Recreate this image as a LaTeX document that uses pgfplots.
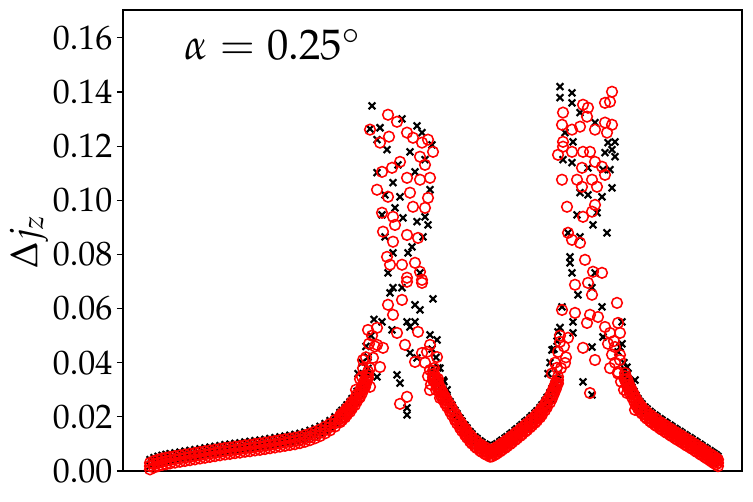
\documentclass[border=0pt]{standalone}
\usepackage{mathpazo}
\usepackage{pgfplots}
\usepackage{pgfplotstable}
\pgfplotsset{compat=1.18}
\pgfplotstableread{
x mid lo hi bk
150 .0018 .0006 .0030 .0042
154 .0025 .0013 .0037 .0049
158 .0030 .0018 .0042 .0054
162 .0034 .0022 .0046 .0058
166 .0037 .0025 .0049 .0061
170 .0040 .0028 .0052 .0064
175 .0043 .0031 .0055 .0067
180 .0046 .0034 .0058 .0070
185 .0049 .0037 .0061 .0073
190 .0052 .0040 .0064 .0076
195 .0055 .0043 .0067 .0079
200 .0058 .0046 .0070 .0082
205 .0061 .0049 .0073 .0085
210 .0064 .0052 .0076 .0088
215 .0067 .0055 .0079 .0091
220 .0070 .0058 .0082 .0094
225 .0073 .0061 .0085 .0097
230 .0075 .0063 .0087 .0099
235 .0078 .0066 .0090 .0102
240 .0080 .0068 .0092 .0104
245 .0083 .0071 .0095 .0107
250 .0085 .0073 .0097 .0109
255 .0088 .0076 .0100 .0112
260 .0090 .0078 .0102 .0114
265 .0093 .0081 .0105 .0117
270 .0096 .0084 .0108 .0120
275 .0099 .0087 .0111 .0123
280 .0102 .0090 .0114 .0126
285 .0105 .0093 .0117 .0129
290 .0108 .0096 .0120 .0132
295 .0111 .0099 .0123 .0135
300 .0115 .0103 .0127 .0139
305 .0120 .0108 .0132 .0144
310 .0126 .0114 .0138 .0150
315 .0133 .0121 .0145 .0157
320 .0141 .0129 .0153 .0165
325 .0151 .0139 .0163 .0175
330 .0162 .0150 .0174 .0186
335 .0176 .0164 .0188 .0200
340 .0192 .0180 .0204 .0216
345 .0210 .0198 .0222 .0234
350 .0231 .0219 .0243 .0255
355 .0256 .0244 .0268 .0280
360 .0285 .0273 .0297 .0309
364 .0317 .0305 .0329 .0341
368 .0355 .0343 .0367 .0379
433 .0358 .0346 .0370 .0382
437 .0322 .0310 .0334 .0346
441 .0290 .0278 .0302 .0314
445 .0262 .0250 .0274 .0286
450 .0232 .0220 .0244 .0256
455 .0200 .0188 .0212 .0224
460 .0171 .0159 .0183 .0195
465 .0145 .0133 .0157 .0169
470 .0121 .0109 .0133 .0145
475 .0102 .0090 .0114 .0126
480 .0087 .0075 .0099 .0111
485 .0075 .0063 .0087 .0099
490 .0065 .0053 .0077 .0089
495 .0072 .0060 .0084 .0096
500 .0084 .0072 .0096 .0108
505 .0097 .0085 .0109 .0121
510 .0111 .0099 .0123 .0135
515 .0126 .0114 .0138 .0150
520 .0141 .0129 .0153 .0165
525 .0157 .0145 .0169 .0181
530 .0173 .0161 .0185 .0197
535 .0190 .0178 .0202 .0214
540 .0210 .0198 .0222 .0234
545 .0236 .0224 .0248 .0260
550 .0265 .0253 .0277 .0289
554 .0298 .0286 .0310 .0322
558 .0336 .0324 .0348 .0360
625 .0350 .0338 .0362 .0374
628 .0318 .0306 .0330 .0342
632 .0285 .0273 .0297 .0309
636 .0255 .0243 .0267 .0279
640 .0232 .0220 .0244 .0256
645 .0212 .0200 .0224 .0236
650 .0196 .0184 .0208 .0220
655 .0182 .0170 .0194 .0206
660 .0169 .0157 .0181 .0193
665 .0157 .0145 .0169 .0181
670 .0145 .0133 .0157 .0169
675 .0133 .0121 .0145 .0157
680 .0122 .0110 .0134 .0146
685 .0110 .0098 .0122 .0134
690 .0099 .0087 .0111 .0123
695 .0087 .0075 .0099 .0111
700 .0075 .0063 .0087 .0099
705 .0063 .0051 .0075 .0087
710 .0051 .0039 .0063 .0075
714 .0041 .0029 .0053 .0065
718 .0030 .0018 .0042 .0054
}\band
\pgfplotstableread{
x mid lo hi bk
342 .0200 .0188 .0212 .0224
347 .0220 .0208 .0232 .0244
352 .0243 .0231 .0255 .0267
357 .0270 .0258 .0282 .0294
362 .0300 .0288 .0312 .0324
366 .0335 .0323 .0347 .0359
435 .0340 .0328 .0352 .0364
439 .0306 .0294 .0318 .0330
443 .0276 .0264 .0288 .0300
447 .0250 .0238 .0262 .0274
452 .0219 .0207 .0231 .0243
457 .0188 .0176 .0200 .0212
462 .0160 .0148 .0172 .0184
467 .0135 .0123 .0147 .0159
472 .0113 .0101 .0125 .0137
477 .0096 .0084 .0108 .0120
482 .0082 .0070 .0094 .0106
487 .0071 .0059 .0083 .0095
492 .0066 .0054 .0078 .0090
497 .0077 .0065 .0089 .0101
502 .0090 .0078 .0102 .0114
507 .0103 .0091 .0115 .0127
512 .0117 .0105 .0129 .0141
517 .0132 .0120 .0144 .0156
522 .0147 .0135 .0159 .0171
527 .0163 .0151 .0175 .0187
532 .0180 .0168 .0192 .0204
537 .0198 .0186 .0210 .0222
542 .0220 .0208 .0232 .0244
547 .0248 .0236 .0260 .0272
552 .0280 .0268 .0292 .0304
556 .0316 .0304 .0328 .0340
627 .0328 .0316 .0340 .0352
630 .0300 .0288 .0312 .0324
634 .0270 .0258 .0282 .0294
638 .0243 .0231 .0255 .0267
642 .0224 .0212 .0236 .0248
647 .0205 .0193 .0217 .0229
652 .0190 .0178 .0202 .0214
657 .0177 .0165 .0189 .0201
662 .0164 .0152 .0176 .0188
667 .0152 .0140 .0164 .0176
672 .0140 .0128 .0152 .0164
677 .0128 .0116 .0140 .0152
682 .0117 .0105 .0129 .0141
687 .0105 .0093 .0117 .0129
692 .0094 .0082 .0106 .0118
697 .0082 .0070 .0094 .0106
702 .0070 .0058 .0082 .0094
707 .0058 .0046 .0070 .0082
712 .0046 .0034 .0058 .0070
716 .0036 .0024 .0048 .0060
}\bandb
\begin{document}
\begin{tikzpicture}
\useasboundingbox (-92.25pt,-23.25pt) rectangle (472.5pt,353.25pt);
\begin{axis}[
  at={(0,0)}, anchor=south west,
  scale only axis, width=464.25pt, height=345.75pt,
  xmin=123, xmax=742, ymin=0, ymax=0.1703,
  xtick=\empty,
  ytick={0,0.02,0.04,0.06,0.08,0.10,0.12,0.14,0.16},
  yticklabel style={/pgf/number format/.cd, fixed, fixed zerofill, precision=2},
  ticklabel style={font=\fontsize{25.5}{30}\selectfont},
  ytick pos=left, tick align=outside, major tick length=4.5pt,
  tick style={line width=0.8pt, black},
  axis line style={line width=0.8pt},
  ylabel={$\Delta j_z$},
  ylabel style={font=\fontsize{29}{34}\selectfont, inner sep=0pt, xshift=-1pt},
  blk/.style={only marks, mark=x, mark size=3.6pt, mark options={line width=1.6pt, black}},
  rd/.style={only marks, mark=o, mark size=4.0pt, mark options={line width=1.15pt, red}},
]
% black crosses
\addplot[blk] table[x=x, y=bk] {\band};
\addplot[blk] table[x=x, y=bk] {\bandb};
\addplot[blk] table[x=x, y=mid] {\band};
\addplot[blk] coordinates {
(372,0.1349)(380,0.1268)(370,0.1264)(402,0.1301)(417,0.1275)(422,0.1250)(387,0.1187)(377,0.1102)
(393,0.1065)(415,0.1105)(410,0.1179)(400,0.1013)(395,0.0972)(382,0.0946)(403,0.0935)(417,0.0921)
(428,0.0909)(425,0.0939)(385,0.0865)(412,0.0828)(423,0.0865)(408,0.0806)(393,0.0806)(388,0.0732)
(420,0.0732)(393,0.0677)(402,0.0677)(432,0.1205)(377,0.1224)(425,0.1150)(398,0.1131)(430,0.1039)(385,0.1020)
(390,0.0658)(415,0.0614)(433,0.0636)(420,0.0595)(382,0.0551)(407,0.0551)(415,0.0551)(392,0.0521)
(410,0.0532)(430,0.0503)(437,0.0484)(410,0.0436)(417,0.0418)(397,0.0355)(400,0.0325)(407,0.0233)
(407,0.0207)(438,0.0381)(443,0.0336)(368,0.0421)(377,0.0348)
(362,0.040)(366,0.046)(371,0.050)(374,0.056)(358,0.036)
(432,0.045)(440,0.038)(444,0.033)(447,0.030)(436,0.042)
(560,0.1420)(560,0.1379)(572,0.1397)(572,0.1360)(580,0.1324)(565,0.1250)(573,0.1216)(595,0.1287)
(608,0.1213)(615,0.1216)(612,0.1187)(605,0.1176)(615,0.1161)(563,0.1150)(572,0.1139)(588,0.1120)
(603,0.1113)(610,0.1113)(612,0.1046)(580,0.1028)(588,0.1020)(602,0.1013)(577,0.0946)(597,0.0954)
(593,0.0909)(607,0.0880)(568,0.0880)(580,0.0865)(570,0.0791)(570,0.0769)(572,0.0732)(595,0.0732)
(578,0.0651)(592,0.0677)(562,0.0606)(602,0.0606)(573,0.0551)(558,0.0514)(573,0.0510)(592,0.0458)
(552,0.0447)(603,0.0495)(622,0.0551)(583,0.0329)(592,0.0281)(620,0.0458)(627,0.0384)(635,0.0336)
(550,0.040)(554,0.045)(557,0.048)(560,0.053)(548,0.036)
(618,0.044)(624,0.040)(628,0.036)(631,0.032)(622,0.047)
};
% red circles
\addplot[rd] table[x=x, y=lo] {\band};
\addplot[rd] table[x=x, y=lo] {\bandb};
\addplot[rd] table[x=x, y=mid] {\band};
\addplot[rd] table[x=x, y=mid] {\bandb};
\addplot[rd] table[x=x, y=hi] {\band};
\addplot[rd] table[x=x, y=hi] {\bandb};
\addplot[rd] coordinates {
(388,0.1316)(397,0.1290)(370,0.1261)(380,0.1213)(389,0.1235)(407,0.1250)(413,0.1231)(422,0.1213)
(428,0.1224)(433,0.1179)(420,0.1161)(425,0.1131)(382,0.1105)(392,0.1120)(400,0.1142)(420,0.1076)
(430,0.1083)(377,0.1039)(388,0.1013)(410,0.1028)(407,0.1083)(428,0.1009)(413,0.0976)(425,0.0972)
(382,0.0954)(393,0.0939)(395,0.0909)(383,0.0884)(393,0.0847)(407,0.0872)(418,0.0861)(387,0.0791)
(402,0.0762)(415,0.0769)(390,0.0762)(407,0.0714)(422,0.0706)(420,0.0736)
(407,0.0699)(422,0.0695)(402,0.0632)(388,0.0614)(393,0.0577)(368,0.0521)(377,0.0529)(397,0.0510)
(418,0.0514)(405,0.0466)(377,0.0466)(383,0.0455)(430,0.0466)(422,0.0436)(437,0.0421)(415,0.0403)
(363,0.0410)(373,0.0418)(380,0.0384)(362,0.0348)(370,0.0311)(430,0.0373)(433,0.0336)(407,0.0274)
(400,0.0248)(430,0.0299)
(356,0.030)(360,0.034)(363,0.038)(366,0.042)(369,0.047)(372,0.050)(359,0.027)(365,0.031)(370,0.038)(375,0.046)
(425,0.040)(428,0.035)(431,0.032)(434,0.038)(436,0.030)(440,0.027)(427,0.044)(438,0.034)
(612,0.1401)(605,0.1360)(610,0.1364)(583,0.1353)(588,0.1342)(563,0.1324)(587,0.1309)(562,0.1279)
(572,0.1261)(580,0.1272)(595,0.1261)(605,0.1287)(612,0.1279)(607,0.1250)(563,0.1216)(563,0.1198)
(558,0.1168)(572,0.1179)(583,0.1179)(590,0.1179)(595,0.1142)(602,0.1124)(582,0.1120)(605,0.1094)
(562,0.1076)(577,0.1076)(592,0.1076)(582,0.1050)(597,0.1050)(595,0.0983)(567,0.0976)(592,0.0958)
(583,0.0939)(568,0.0880)(572,0.0854)(580,0.0843)(585,0.0780)(593,0.0736)(602,0.0732)
(575,0.0688)(588,0.0695)(592,0.0651)(617,0.0621)(562,0.0595)(575,0.0584)(590,0.0577)(587,0.0547)
(598,0.0569)(605,0.0532)(610,0.0510)(620,0.0510)(618,0.0547)(568,0.0492)(560,0.0477)(583,0.0455)
(595,0.0410)(615,0.0458)(620,0.0429)(565,0.0399)(557,0.0381)(618,0.0366)(625,0.0336)(590,0.0288)
(627,0.0288)(635,0.0226)
(552,0.036)(555,0.040)(558,0.044)(561,0.038)(564,0.046)(556,0.032)(560,0.050)(566,0.042)
(608,0.047)(612,0.043)(615,0.040)(618,0.036)(621,0.033)(610,0.038)(624,0.030)(614,0.048)(620,0.041)
};
\node[font=\fontsize{32}{36}\selectfont] at (rel axis cs:0.241,0.924) {$\alpha = 0.25^\circ$};
\end{axis}
\end{tikzpicture}
\end{document}
